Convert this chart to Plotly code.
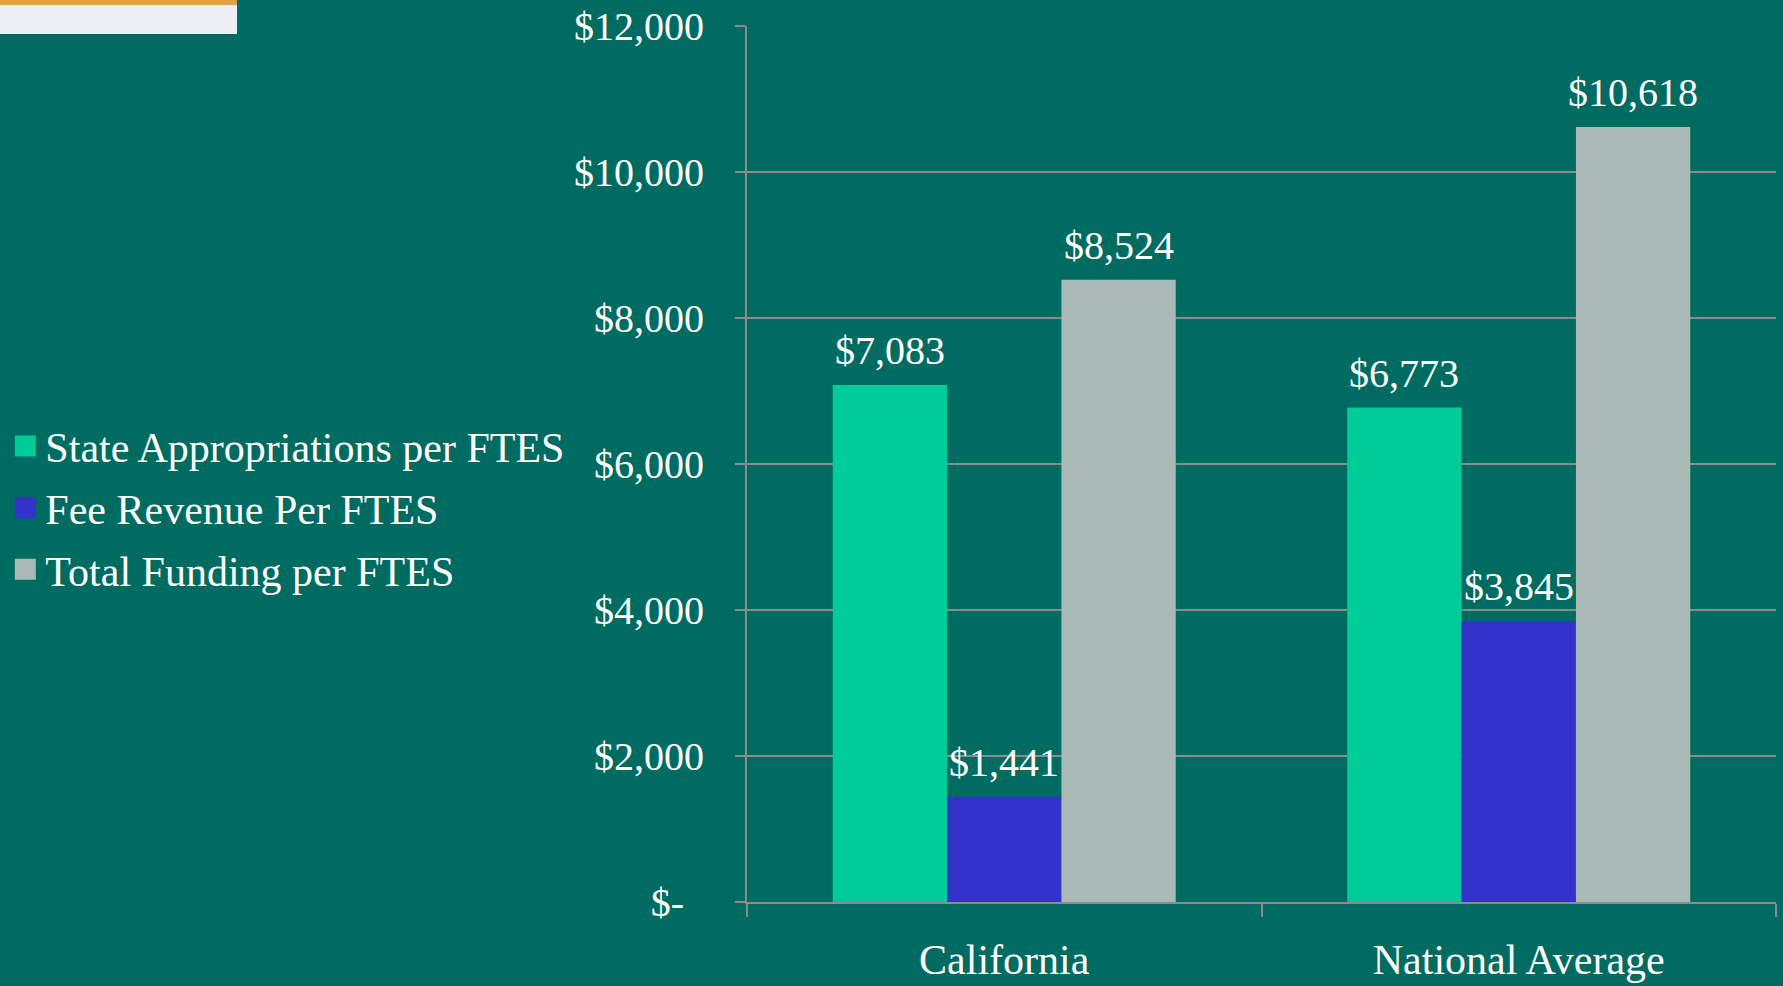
import plotly.graph_objects as go

categories = ["California", "National Average"]
series_names = ["State Appropriations per FTES", "Fee Revenue Per FTES", "Total Funding per FTES"]
state_approp = [7083, 6773]
fee_revenue = [1441, 3845]
total_funding = [8524, 10618]
tick_vals = [0, 2000, 4000, 6000, 8000, 10000, 12000]
tick_text = ["$-\u00a0\u00a0", "$2,000", "$4,000", "$6,000", "$8,000", "$10,000", "$12,000"]

colors = ["#00CC99", "#3333CC", "#A9BAB6"]
BG = "#006B60"
GRID = "#8C8C8C"
FONT = "Liberation Serif, Times New Roman, serif"
BARGAP = 1 / 3

series_vals = [state_approp, fee_revenue, total_funding]
fig = go.Figure()
for name, vals, col in zip(series_names, series_vals, colors):
    fig.add_trace(go.Bar(
        x=categories, y=vals, name=name, marker=dict(color=col, line=dict(width=0)),
        showlegend=False,
    ))
# legend proxies (larger square swatches)
for i, (name, col) in enumerate(zip(series_names, colors)):
    fig.add_trace(go.Scatter(
        x=[None], y=[None], mode="markers", name=name, legendgroup=f"g{i}",
        marker=dict(symbol="square", size=16, color=col, line=dict(color=col, width=5)),
        showlegend=True,
    ))

# value labels above bars, positioned at each bar's centre on the category axis
n = len(series_vals)
bw = (1 - BARGAP) / n
annotations = []
for k, vals in enumerate(series_vals):
    for ci, v in enumerate(vals):
        annotations.append(dict(
            x=ci + (k - (n - 1) / 2) * bw, y=v, xref="x", yref="y",
            text="${:,}".format(v), showarrow=False, yanchor="bottom", yshift=10,
            font=dict(family=FONT, size=40, color="white"),
        ))

fig.update_layout(
    width=1783, height=986,
    paper_bgcolor=BG, plot_bgcolor=BG,
    margin=dict(l=747, r=7, t=26, b=84),
    barmode="group", bargap=BARGAP, bargroupgap=0,
    font=dict(family=FONT, color="white", size=40),
    legend=dict(
        xref="container", yref="container", x=0.003, y=0.485, xanchor="left", yanchor="middle",
        font=dict(family=FONT, size=42, color="white"), bgcolor="rgba(0,0,0,0)",
        traceorder="grouped", tracegroupgap=4, itemsizing="trace",
    ),
    xaxis=dict(
        showline=True, linecolor=GRID, linewidth=2, ticks="outside", tickson="boundaries",
        ticklen=13, tickcolor=GRID, tickwidth=2, showgrid=False, automargin=False,
        tickfont=dict(family=FONT, size=42, color="white"), ticklabelstandoff=20,
    ),
    yaxis=dict(
        range=[0, 12000], tickvals=tick_vals, ticktext=tick_text,
        showline=True, linecolor=GRID, linewidth=2, ticks="outside", ticklen=10,
        tickcolor=GRID, tickwidth=2, showgrid=True, gridcolor=GRID, gridwidth=1.5,
        zeroline=False, tickfont=dict(family=FONT, size=40, color="white"),
        ticklabelstandoff=23, automargin=False,
    ),
    annotations=annotations,
    shapes=[
        dict(type="rect", xref="paper", yref="paper", x0=-0.726, x1=-0.4956, y0=0.9909, y1=1.0297,
             fillcolor="#EEF0F6", line=dict(width=0), layer="above"),
        dict(type="rect", xref="paper", yref="paper", x0=-0.726, x1=-0.4956, y0=1.0240, y1=1.0297,
             fillcolor="#E3A24A", line=dict(width=0), layer="above"),
    ],
)

fig.write_html(
    "out.html",
    config={"displayModeBar": False},
    post_script="document.body.style.margin='0';document.documentElement.style.overflow='hidden';document.body.style.overflow='hidden';",
)
